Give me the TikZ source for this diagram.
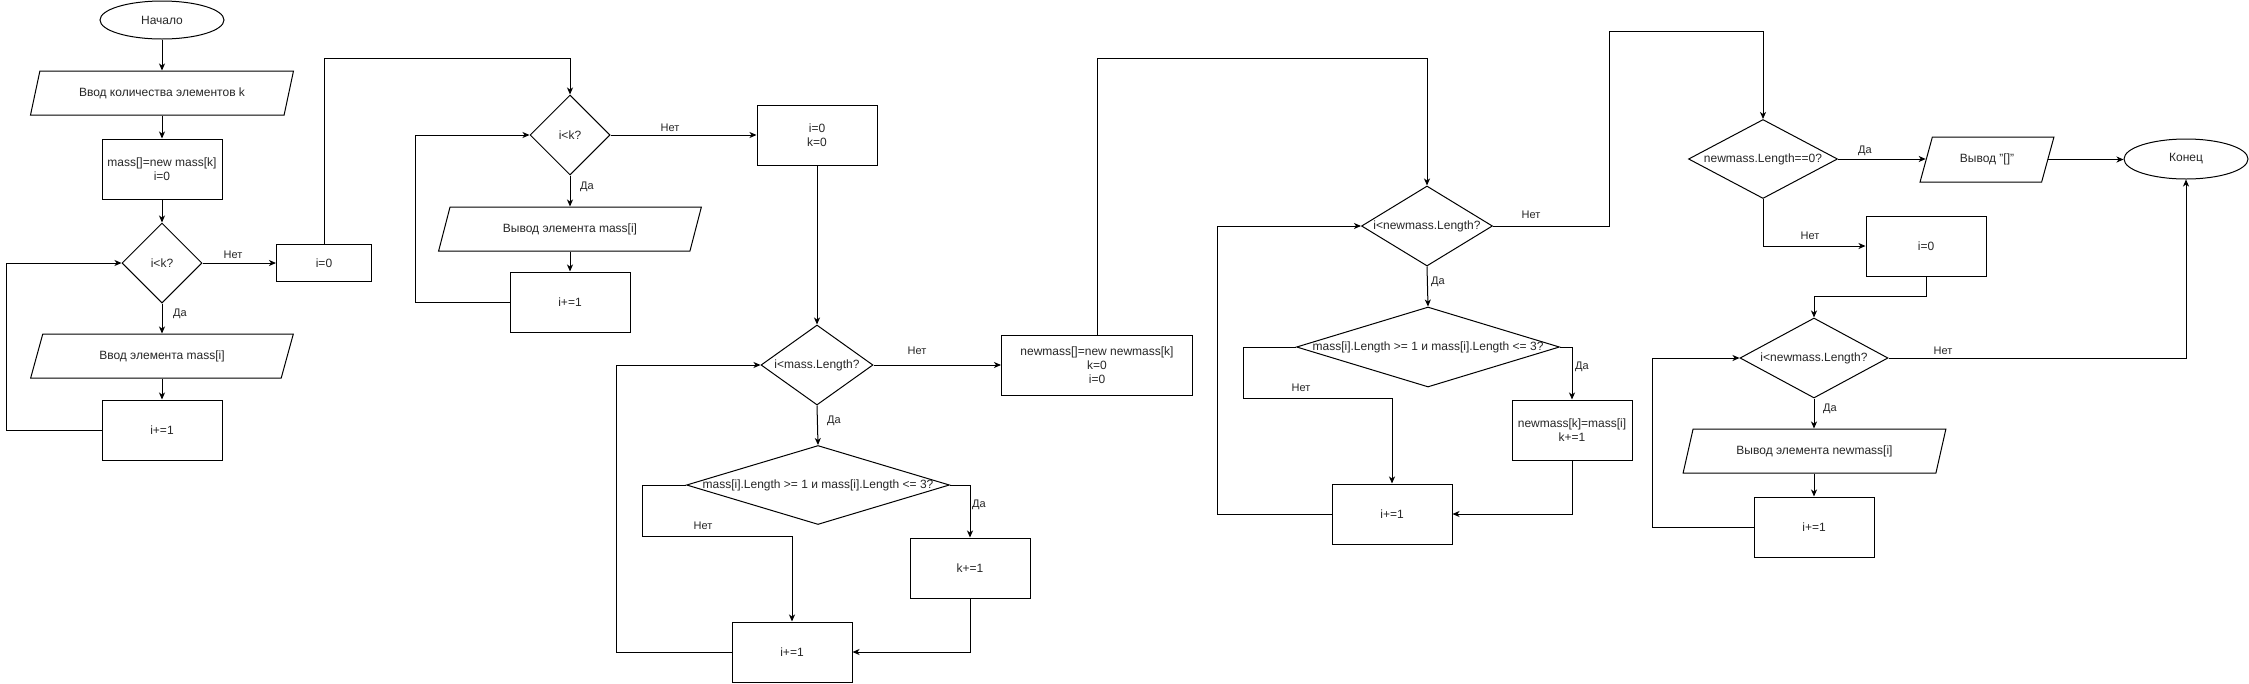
\documentclass[tikz,border=0pt]{standalone}
\usepackage{fontspec}
\setmainfont{Liberation Sans}
\usetikzlibrary{shapes.geometric,arrows.meta,calc}
\begin{document}
\begin{tikzpicture}[x=1pt,y=-1pt,
  every node/.style={font=\fontsize{12}{14}\selectfont, text=black!85},
  base/.style={draw=black, line width=1pt, inner sep=2pt, align=center},
  term/.style={base, ellipse, minimum width=124pt, minimum height=38pt},
  proc/.style={base, rectangle, minimum width=120pt, minimum height=60pt},
  io/.style={base, trapezium, trapezium left angle=66.6, trapezium right angle=113.4, trapezium stretches=true, minimum width=263pt, minimum height=44pt},
  dec/.style={base, diamond, inner sep=0pt},
  lbl/.style={font=\fontsize{11}{13}\selectfont, inner sep=0pt},
  arr/.style={line width=1pt, draw=black, -{Stealth[length=7pt,width=6pt,inset=2pt]}},
  ln/.style={line width=1pt, draw=black}
]
\useasboundingbox (0,0) rectangle (2249,683);

% ---- column 1
\node[term] (start) at (162,20) {Начало};
\node[io] (in1) at (162,93) {Ввод количества элементов k};
\node[proc] (r1) at (162,169) {mass[]=new mass[k]\\i=0};
\node[dec, minimum width=80pt, minimum height=80pt] (d1) at (162,263) {\makebox[0pt]{i<k?}};
\node[io] (in2) at (162,356) {Ввод элемента mass[i]};
\node[proc] (r2) at (162,430) {i+=1};
\node[proc, minimum width=95pt, minimum height=37pt] (r3) at (324,263) {i=0};

% ---- column 2
\node[dec, minimum width=80pt, minimum height=80pt] (d2) at (570,135) {\makebox[0pt]{i<k?}};
\node[io] (out1) at (570,229) {Вывод элемента mass[i]};
\node[proc] (r4) at (570,302) {i+=1};
\node[proc] (r5) at (817,135) {i=0\\k=0};

% ---- column 3
\node[dec, minimum width=112pt, minimum height=80pt] (d3) at (817,365) {\makebox[0pt]{i<mass.Length?}};
\node[dec, minimum width=263pt, minimum height=79pt] (d4) at (818,485) {\makebox[0pt]{mass[i].Length >= 1 и mass[i].Length <= 3?}};
\node[proc] (r6) at (970,568) {k+=1};
\node[proc] (r7) at (792,652) {i+=1};
\node[proc, minimum width=191pt] (r8) at (1097,365) {newmass[]=new newmass[k]\\k=0\\i=0};

% ---- column 4
\node[dec, minimum width=131pt, minimum height=80pt] (d5) at (1427,226) {\makebox[0pt]{i<newmass.Length?}};
\node[dec, minimum width=263pt, minimum height=80pt] (d6) at (1428,347) {\makebox[0pt]{mass[i].Length >= 1 и mass[i].Length <= 3?}};
\node[proc] (r9) at (1572,430) {newmass[k]=mass[i]\\k+=1};
\node[proc] (r10) at (1392,514) {i+=1};

% ---- column 5
\node[dec, minimum width=149pt, minimum height=79pt] (d7) at (1763,159) {\makebox[0pt]{newmass.Length==0?}};
\node[io, minimum width=134pt, minimum height=45pt] (out2) at (1987,159.5) {Вывод "[]"};
\node[term, minimum height=40pt] (endn) at (2186,159) {Конец};
\node[proc] (r11) at (1926,246) {i=0};
\node[dec, minimum width=148pt, minimum height=80pt] (d8) at (1814,358) {\makebox[0pt]{i<newmass.Length?}};
\node[io] (out3) at (1814.5,451) {Вывод элемента newmass[i]};
\node[proc] (r12) at (1814,527) {i+=1};

% ---- labels
\node[lbl] (l1) at (233,255) {Нет};
\node[lbl] (l2) at (180,314) {Да};
\node[lbl] (l3) at (670,128) {Нет};
\node[lbl] (l4) at (587,187) {Да};
\node[lbl] (l5) at (917,351) {Нет};
\node[lbl] (l6) at (834,421) {Да};
\node[lbl] (l7) at (979,505) {Да};
\node[lbl] (l8) at (703,526) {Нет};
\node[lbl] (l9) at (1438,282) {Да};
\node[lbl] (l10) at (1582,367) {Да};
\node[lbl] (l11) at (1301,388) {Нет};
\node[lbl] (l12) at (1531,215) {Нет};
\node[lbl] (l13) at (1865,151) {Да};
\node[lbl] (l14) at (1810,236) {Нет};
\node[lbl] (l15) at (1830,409) {Да};
\node[lbl] (l16) at (1943,351) {Нет};

% ---- connectors column 1
\draw[arr] (start.south) -- (start.south |- in1.north);
\draw[arr] (in1.south -| r1.north) -- (r1.north);
\draw[arr] (r1.south) -- (d1.north);
\draw[arr] (d1.east) -- (r3.west);
\draw[arr] (d1.south) -- (d1.south |- in2.north);
\draw[arr] (in2.south -| r2.north) -- (r2.north);
\draw[arr] (r2.west) -- ++(-95,0) |- (d1.west);
\draw[arr] (r3.north) -- ++(0,-186) -| (d2.north);

% ---- column 2
\draw[arr] (d2.east) -- (r5.west);
\draw[arr] (d2.south) -- (d2.south |- out1.north);
\draw[arr] (out1.south -| r4.north) -- (r4.north);
\draw[arr] (r4.west) -- ++(-94,0) |- (d2.west);
\draw[arr] (r5.south) -- (d3.north);

% ---- column 3
\draw[arr] (d3.east) -- (r8.west);
\draw[arr] (d3.south) -- (d4.north);
\draw[arr] (d4.east) -| (r6.north);
\draw[arr] (r6.south) |- (r7.east);
\draw[arr] (d4.west) -- ++(-44,0) -- ++(0,51) -| (r7.north);
\draw[arr] (r7.west) -- ++(-115,0) |- (d3.west);
\draw[arr] (r8.north) -- ++(0,-276) -| (d5.north);

% ---- column 4
\draw[arr] (d5.south) -- (d6.north);
\draw[arr] (d6.east) -| (r9.north);
\draw[arr] (r9.south) |- (r10.east);
\draw[arr] (d6.west) -- ++(-53,0) -- ++(0,51) -| (r10.north);
\draw[arr] (r10.west) -- ++(-114,0) |- (d5.west);
\draw[arr] (d5.east) -- ++(116,0) -- ++(0,-195) -| (d7.north);

% ---- column 5
\draw[arr] (d7.east) -- (d7.east -| out2.west);
\draw[arr] (out2.east) -- (out2.east -| endn.west);
\draw[arr] (d7.south) |- (r11.west);
\draw[arr] (r11.south) -- ++(0,20) -| (d8.north);
\draw[arr] (d8.south) -- (d8.south |- out3.north);
\draw[arr] (out3.south -| r12.north) -- (r12.north);
\draw[arr] (r12.west) -- ++(-101,0) |- (d8.west);
\draw[arr] (d8.east) -| (endn.south);
\end{tikzpicture}
\end{document}
